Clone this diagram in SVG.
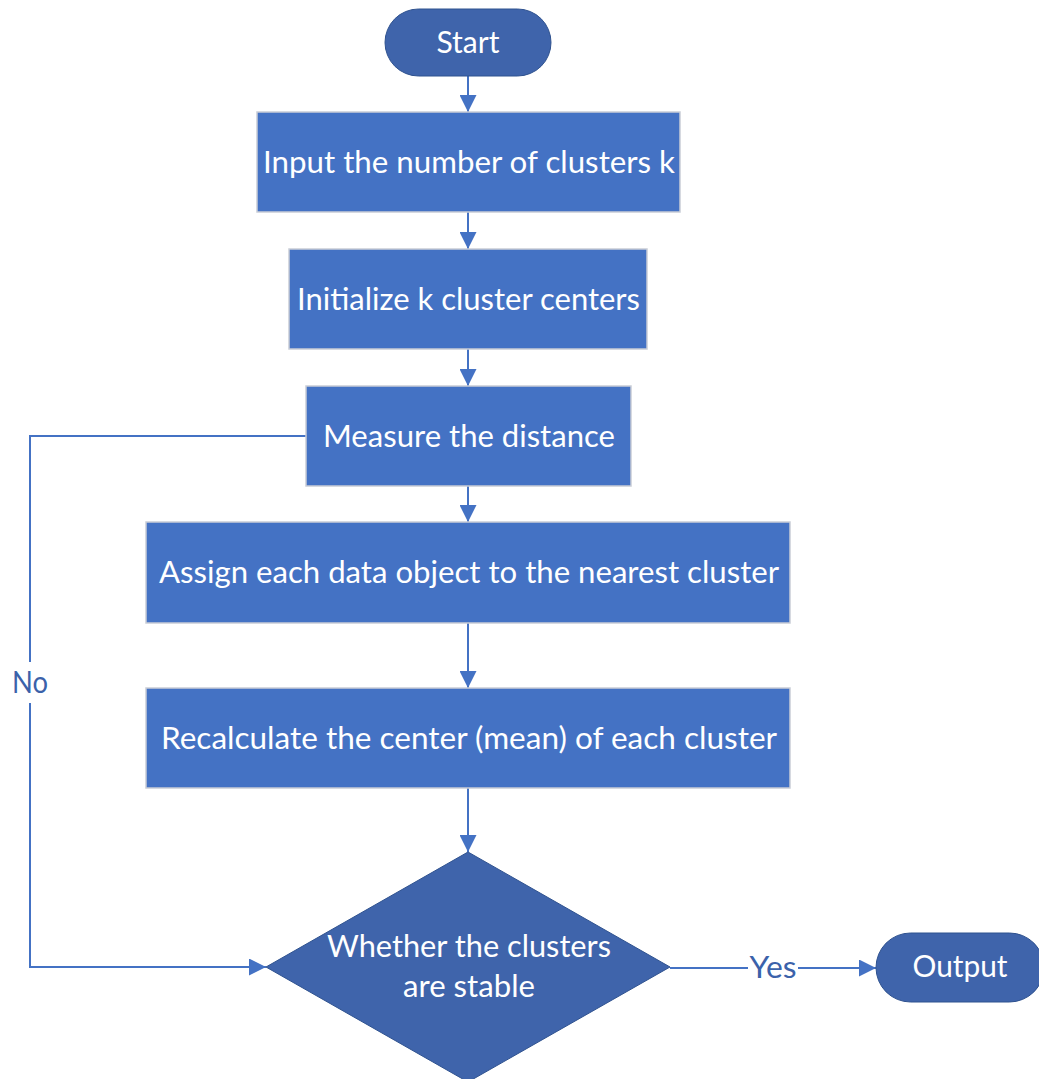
<svg xmlns="http://www.w3.org/2000/svg" width="1039" height="1079" viewBox="0 0 1039 1079">
<style>
.proc{fill:#4472C4;stroke:#C9CDD6;stroke-width:1.5}
.term{fill:#3F64AB;stroke:#2F528F;stroke-width:1}
.t{font-family:Lato,"Liberation Sans",sans-serif;font-size:30px;fill:#FFFFFF;text-anchor:middle}
.lbl{font-family:Lato,"Liberation Sans",sans-serif;font-size:30px;fill:#3B62AA;text-anchor:middle}
.c{fill:none;stroke:#4472C4;stroke-width:2}
</style>
<defs>
<marker id="ah" markerWidth="17" markerHeight="17" viewBox="0 0 17 17" refX="17" refY="8.5" orient="auto" markerUnits="userSpaceOnUse">
<path d="M0,0 L17,8.5 L0,17 Z" fill="#4472C4"/>
</marker>
</defs>
<rect width="1039" height="1079" fill="#FFFFFF"/>
<g id="connectors">
<line class="c" x1="468" y1="76" x2="468" y2="112" marker-end="url(#ah)"/>
<line class="c" x1="468" y1="212" x2="468" y2="249" marker-end="url(#ah)"/>
<line class="c" x1="468" y1="349" x2="468" y2="386" marker-end="url(#ah)"/>
<line class="c" x1="468" y1="486" x2="468" y2="522" marker-end="url(#ah)"/>
<line class="c" x1="468" y1="623" x2="468" y2="688" marker-end="url(#ah)"/>
<line class="c" x1="468" y1="788" x2="468" y2="852" marker-end="url(#ah)"/>
<path class="c" d="M306,436 H30 V662"/>
<path class="c" d="M30,703 V967 H266" marker-end="url(#ah)"/>
<text class="lbl" x="30" y="693" textLength="36" lengthAdjust="spacingAndGlyphs">No</text>
<line class="c" x1="670" y1="968" x2="748" y2="968"/>
<line class="c" x1="798" y1="968" x2="876" y2="968" marker-end="url(#ah)"/>
<text class="lbl" x="773" y="978" textLength="47" lengthAdjust="spacingAndGlyphs">Yes</text>
</g>
<g id="start">
<rect class="term" x="385" y="9" width="166" height="67" rx="33.5"/>
<text class="t" x="468" y="53" textLength="63" lengthAdjust="spacingAndGlyphs">Start</text>
</g>
<g id="input">
<rect class="proc" x="257" y="112" width="423" height="100"/>
<text class="t" x="469" y="173" textLength="412" lengthAdjust="spacingAndGlyphs">Input the number of clusters k</text>
</g>
<g id="init">
<rect class="proc" x="289" y="249" width="358" height="100"/>
<text class="t" x="468.5" y="310" textLength="343" lengthAdjust="spacingAndGlyphs">Initialize k cluster centers</text>
</g>
<g id="measure">
<rect class="proc" x="306" y="386" width="325" height="100"/>
<text class="t" x="469" y="447" textLength="292" lengthAdjust="spacingAndGlyphs">Measure the distance</text>
</g>
<g id="assign">
<rect class="proc" x="146" y="522" width="644" height="101"/>
<text class="t" x="469" y="583" textLength="620" lengthAdjust="spacingAndGlyphs">Assign each data object to the nearest cluster</text>
</g>
<g id="recalc">
<rect class="proc" x="146" y="688" width="644" height="100"/>
<text class="t" x="469" y="749" textLength="616" lengthAdjust="spacingAndGlyphs">Recalculate the center (mean) of each cluster</text>
</g>
<g id="decision">
<polygon class="term" points="468,852 670,967 468,1082 266,967"/>
<text class="t" x="469" y="957" textLength="284" lengthAdjust="spacingAndGlyphs">Whether the clusters</text>
<text class="t" x="469" y="997" textLength="132" lengthAdjust="spacingAndGlyphs">are stable</text>
</g>
<g id="output">
<rect class="term" x="876" y="933" width="168" height="69" rx="34.5"/>
<text class="t" x="960" y="977" textLength="95" lengthAdjust="spacingAndGlyphs">Output</text>
</g>
</svg>
